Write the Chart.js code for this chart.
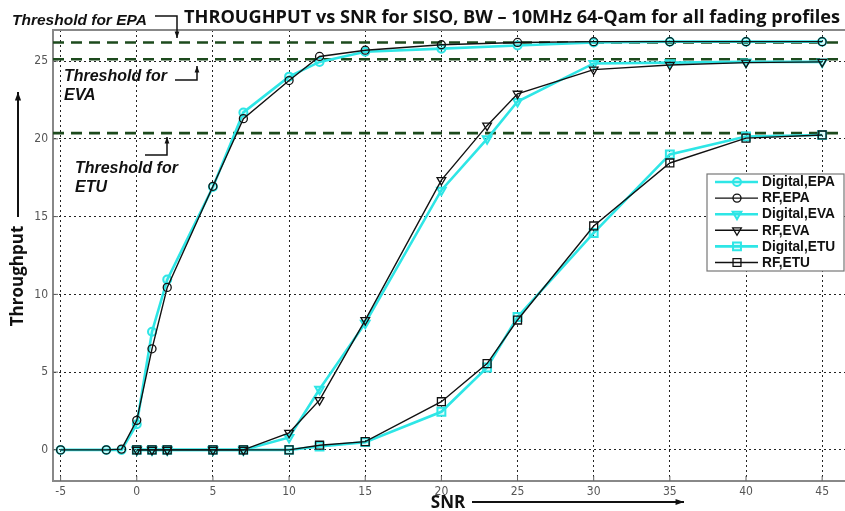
<!DOCTYPE html>
<html lang="en">
<head>
<meta charset="UTF-8">
<title>Throughput vs SNR</title>
<script src="https://cdn.jsdelivr.net/npm/chart.js"></script>
<style>
  * { margin: 0; padding: 0; }
  body { background: #fff; width: 845px; height: 511px; overflow: hidden; }
</style>
</head>
<body>
<canvas id="chart" width="845" height="511"></canvas>
<script>
// SNR values (x) for each fading profile
const snrEPA = [-5, -2, -1, 0, 1, 2, 5, 7, 10, 12, 15, 20, 25, 30, 35, 40, 45];
const snrEVA = [0, 1, 2, 5, 7, 10, 12, 15, 20, 23, 25, 30, 35, 40, 45];
const snrETU = [0, 1, 2, 5, 7, 10, 12, 15, 20, 23, 25, 30, 35, 40, 45];

// throughput
const digitalEPA = [0, 0, 0, 1.65, 7.6, 10.95, 16.9, 21.7, 24.0, 24.95, 25.6, 25.8, 26.0, 26.2, 26.25, 26.25, 26.25];
const rfEPA      = [0, 0, 0.05, 1.9, 6.5, 10.45, 16.95, 21.3, 23.75, 25.3, 25.7, 26.05, 26.2, 26.25, 26.25, 26.25, 26.25];
const digitalEVA = [0, 0, 0, 0, 0, 0.8, 3.9, 8.15, 16.7, 20.0, 22.4, 24.85, 24.9, 24.95, 24.95];
const rfEVA      = [0, 0, 0, 0, 0, 1.1, 3.2, 8.35, 17.35, 20.85, 22.9, 24.45, 24.75, 24.9, 24.95];
const digitalETU = [0, 0, 0, 0, 0, 0, 0.22, 0.5, 2.45, 5.3, 8.55, 13.95, 19.0, 20.15, 20.25];
const rfETU      = [0, 0, 0, 0, 0, 0, 0.3, 0.53, 3.1, 5.55, 8.35, 14.4, 18.45, 20.05, 20.25];

// threshold levels
const thresholdEPA = 26.2;
const thresholdEVA = 25.12;
const thresholdETU = 20.37;

const xTicks = [-5, 0, 5, 10, 15, 20, 25, 30, 35, 40, 45];
const yTicks = [0, 5, 10, 15, 20, 25];
const xRange = [-5.5, 46.5];
const yRange = [-2, 27];

const titleText = 'THROUGHPUT vs SNR for SISO, BW \u2013 10MHz 64-Qam for all fading profiles';
const xLabel = 'SNR';
const yLabel = 'Throughput';

const CYAN = '#2ee6e6';
const BLACK = '#111';
const GREEN = '#1d4a1d';

function pts(xs, ys) {
  return xs.map((x, i) => ({ x: x, y: ys[i] }));
}

function series(label, xs, ys, digital, style) {
  const rot = style === 'triangle' ? 180 : 0;
  const r = style === 'circle' ? 4 : (style === 'triangle' ? 5 : 5.6);
  return {
    label: label,
    data: pts(xs, ys),
    borderColor: digital ? CYAN : BLACK,
    backgroundColor: 'rgba(0,0,0,0)',
    borderWidth: digital ? 2.6 : 1.4,
    pointStyle: style,
    rotation: rot,
    pointRadius: r,
    pointBorderWidth: digital ? 2 : 1.3,
    pointBorderColor: digital ? CYAN : BLACK,
    pointBackgroundColor: digital ? 'rgba(46,230,230,0.15)' : 'rgba(255,255,255,0)',
    tension: 0,
    order: digital ? 2 : 1,
    isSeries: true
  };
}

function threshold(value) {
  return {
    label: 'threshold',
    data: [{ x: xRange[0], y: value }, { x: xRange[1], y: value }],
    borderColor: GREEN,
    borderWidth: 2.6,
    borderDash: [11, 7],
    pointRadius: 0,
    order: 3
  };
}

const datasets = [
  series('Digital,EPA', snrEPA, digitalEPA, true, 'circle'),
  series('RF,EPA', snrEPA, rfEPA, false, 'circle'),
  series('Digital,EVA', snrEVA, digitalEVA, true, 'triangle'),
  series('RF,EVA', snrEVA, rfEVA, false, 'triangle'),
  series('Digital,ETU', snrETU, digitalETU, true, 'rect'),
  series('RF,ETU', snrETU, rfETU, false, 'rect'),
  threshold(thresholdEPA),
  threshold(thresholdEVA),
  threshold(thresholdETU)
];

function fitFont(ctx, text, style, family, target) {
  ctx.font = style + ' 20px ' + family;
  const w = ctx.measureText(text).width;
  return style + ' ' + (20 * target / w).toFixed(2) + 'px ' + family;
}

function marker(ctx, style, x, y, r) {
  ctx.beginPath();
  if (style === 'circle') {
    ctx.arc(x, y, r, 0, Math.PI * 2);
  } else if (style === 'triangle') {
    ctx.moveTo(x - r * 0.87, y - r * 0.5);
    ctx.lineTo(x + r * 0.87, y - r * 0.5);
    ctx.lineTo(x, y + r);
    ctx.closePath();
  } else {
    const s = r * Math.SQRT1_2;
    ctx.rect(x - s, y - s, s * 2, s * 2);
  }
  ctx.fill();
  ctx.stroke();
}

function arrow(ctx, path, head) {
  ctx.beginPath();
  ctx.moveTo(path[0][0], path[0][1]);
  for (let i = 1; i < path.length; i++) ctx.lineTo(path[i][0], path[i][1]);
  ctx.stroke();
  const a = path[path.length - 2], b = path[path.length - 1];
  const ang = Math.atan2(b[1] - a[1], b[0] - a[0]);
  ctx.beginPath();
  ctx.moveTo(b[0], b[1]);
  ctx.lineTo(b[0] - head * Math.cos(ang - 0.35), b[1] - head * Math.sin(ang - 0.35));
  ctx.lineTo(b[0] - head * Math.cos(ang + 0.35), b[1] - head * Math.sin(ang + 0.35));
  ctx.closePath();
  ctx.fill();
}

const decorations = {
  id: 'decorations',
  beforeDatasetsDraw(chart) {
    const { ctx, chartArea } = chart;
    ctx.save();
    ctx.strokeStyle = '#888';
    ctx.lineWidth = 2;
    ctx.beginPath();
    ctx.moveTo(chartArea.left, chartArea.top);
    ctx.lineTo(chartArea.right, chartArea.top);
    ctx.stroke();
    // small inward tick marks, like the original axes
    ctx.lineWidth = 1;
    ctx.strokeStyle = '#666';
    const xs = chart.scales.x, ys = chart.scales.y;
    xTicks.forEach(v => {
      const px = xs.getPixelForValue(v);
      ctx.beginPath();
      ctx.moveTo(px, chartArea.bottom);
      ctx.lineTo(px, chartArea.bottom - 5);
      ctx.stroke();
    });
    yTicks.forEach(v => {
      const py = ys.getPixelForValue(v);
      ctx.beginPath();
      ctx.moveTo(chartArea.left, py);
      ctx.lineTo(chartArea.left + 5, py);
      ctx.stroke();
    });
    ctx.restore();
  },
  afterDraw(chart) {
    const { ctx } = chart;
    ctx.save();
    ctx.fillStyle = '#111';
    ctx.strokeStyle = '#111';
    ctx.textBaseline = 'alphabetic';

    // title
    ctx.font = fitFont(ctx, titleText, 'bold', '"Open Sans", sans-serif', 656);
    ctx.fillText(titleText, 184, 23);

    // threshold notes
    ctx.font = fitFont(ctx, 'Threshold for EPA', 'bold italic', '"Liberation Sans", sans-serif', 135);
    ctx.fillText('Threshold for EPA', 12, 25);
    ctx.font = fitFont(ctx, 'Threshold for', 'bold italic', '"Liberation Sans", sans-serif', 103);
    ctx.fillText('Threshold for', 64, 81);
    ctx.fillText('EVA', 64, 100);
    ctx.fillText('Threshold for', 75, 173);
    ctx.fillText('ETU', 75, 192);

    ctx.lineWidth = 1.5;
    arrow(ctx, [[155, 16], [177, 16], [177, 38]], 7);
    arrow(ctx, [[175, 80], [197, 80], [197, 66]], 7);
    arrow(ctx, [[145, 155], [167, 155], [167, 137]], 7);

    // axis labels with arrows
    ctx.font = 'bold 17px "Open Sans", sans-serif';
    ctx.textAlign = 'center';
    ctx.textBaseline = 'middle';
    ctx.fillText(xLabel, 448, 503);
    ctx.save();
    ctx.translate(18, 276);
    ctx.rotate(-Math.PI / 2);
    ctx.fillText(yLabel, 0, 0);
    ctx.restore();
    ctx.lineWidth = 2;
    arrow(ctx, [[472, 502], [684, 502]], 9);
    arrow(ctx, [[18, 217], [18, 92]], 9);

    // legend
    const lx = 707, ly = 174, lw = 137, lh = 97;
    ctx.fillStyle = '#fff';
    ctx.fillRect(lx, ly, lw, lh);
    ctx.strokeStyle = '#777';
    ctx.lineWidth = 1.2;
    ctx.strokeRect(lx, ly, lw, lh);
    ctx.textAlign = 'left';
    ctx.font = fitFont(ctx, 'Digital,EPA', 'bold', '"Liberation Sans", sans-serif', 73);
    chart.data.datasets.filter(d => d.isSeries).forEach((d, i) => {
      const y = 182 + i * 16.1;
      ctx.strokeStyle = d.borderColor;
      ctx.lineWidth = d.borderWidth;
      ctx.beginPath();
      ctx.moveTo(715, y);
      ctx.lineTo(758, y);
      ctx.stroke();
      ctx.fillStyle = d.pointBackgroundColor;
      ctx.lineWidth = d.pointBorderWidth;
      marker(ctx, d.pointStyle, 737, y, d.pointRadius);
      ctx.fillStyle = '#111';
      ctx.fillText(d.label, 762, y + 0.5);
    });
    ctx.restore();
  }
};

new Chart(document.getElementById('chart'), {
  type: 'line',
  data: { datasets: datasets },
  options: {
    responsive: false,
    animation: false,
    layout: { autoPadding: false, padding: { top: 30, right: 0, left: 0, bottom: 0 } },
    plugins: {
      legend: { display: false },
      title: { display: false },
      tooltip: { enabled: false }
    },
    scales: {
      x: {
        type: 'linear',
        min: xRange[0],
        max: xRange[1],
        afterBuildTicks: s => { s.ticks = xTicks.map(v => ({ value: v })); },
        afterFit: s => { s.height = 30; s.paddingRight = 0; s.paddingLeft = 0; },
        ticks: {
          autoSkip: false,
          maxRotation: 0,
          padding: 4,
          color: '#555',
          font: { family: '"Liberation Sans Narrow", "DejaVu Sans Condensed", sans-serif', size: 12 }
        },
        grid: { color: '#222', lineWidth: 1, drawTicks: false },
        border: { color: '#888', width: 2, dash: [2, 3] }
      },
      y: {
        type: 'linear',
        min: yRange[0],
        max: yRange[1],
        afterBuildTicks: s => { s.ticks = yTicks.map(v => ({ value: v })); },
        afterFit: s => { s.width = 53; s.paddingTop = 0; s.paddingBottom = 0; },
        ticks: {
          padding: 5,
          color: '#555',
          font: { family: '"Liberation Sans Narrow", "DejaVu Sans Condensed", sans-serif', size: 12 }
        },
        grid: { color: '#222', lineWidth: 1, drawTicks: false },
        border: { color: '#888', width: 2, dash: [2, 3] }
      }
    }
  },
  plugins: [decorations]
});
</script>
</body>
</html>
